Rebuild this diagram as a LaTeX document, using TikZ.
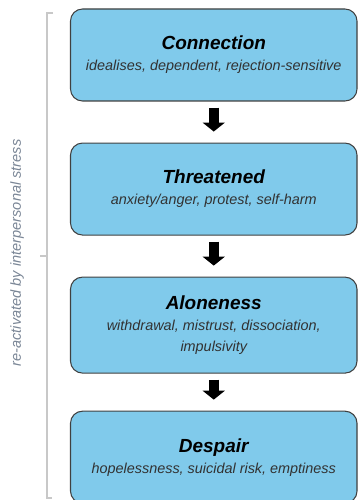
\documentclass[tikz,border=0pt]{standalone}
\usepackage{fontspec}
\setmainfont{Liberation Sans}
\usepackage{xcolor}
\usetikzlibrary{positioning,arrows.meta}

\definecolor{stagefill}{RGB}{128,202,235}
\definecolor{stageedge}{RGB}{64,64,64}
\definecolor{notetext}{RGB}{50,50,50}
\definecolor{sidegray}{RGB}{122,134,150}
\definecolor{bracketgray}{RGB}{200,200,200}

\newcommand{\stagetitle}[1]{{\fontsize{10.8}{12}\selectfont\bfseries\itshape #1}}
\newcommand{\stagenote}[1]{{\fontsize{8.2}{10}\selectfont\itshape\color{notetext}#1}}

\tikzset{
  stage/.style={draw=stageedge, fill=stagefill, rounded corners=0.24cm, line width=0.6pt,
    minimum width=5.73cm, minimum height=1.84cm, align=center, inner sep=2pt},
  flow/.style={-{Triangle[width=0.44cm,length=0.18cm]}, line width=0.21cm, black,
    shorten <=0.12cm, shorten >=0.22cm},
  bracket/.style={draw=bracketgray, line width=0.6pt},
}

\begin{document}
\begin{tikzpicture}
    \useasboundingbox (0,0) rectangle (7.16,-10);

    % Stages
    \node[stage] (connection) at (4.275,-1.10)
        {\stagetitle{Connection}\\ \stagenote{idealises, dependent, rejection-sensitive}};
    \node[stage, below=0.82cm of connection] (threatened)
        {\stagetitle{Threatened}\\ \stagenote{anxiety/anger, protest, self-harm}};
    \node[stage, minimum height=1.92cm, below=0.82cm of threatened] (aloneness)
        {\stagetitle{Aloneness}\\ \stagenote{withdrawal, mistrust, dissociation,}\\ \stagenote{impulsivity}};
    \node[stage, below=0.74cm of aloneness] (despair)
        {\stagetitle{Despair}\\ \stagenote{hopelessness, suicidal risk, emptiness}};

    % Arrows between stages
    \draw[flow] (connection) -- (threatened);
    \draw[flow] (threatened) -- (aloneness);
    \draw[flow] (aloneness) -- (despair);

    % Side bracket
    \coordinate (brtopend) at (1.06,-0.26);
    \coordinate (brtop) at (0.94,-0.26);
    \coordinate (brbot) at (0.94,-9.96);
    \coordinate (brbotend) at (1.04,-9.96);
    \coordinate (brmid) at (0.94,-5.12);
    \coordinate (brtick) at (0.80,-5.12);
    \draw[bracket] (brtopend) -- (brtop) -- (brbot) -- (brbotend);
    \draw[bracket] (brtick) -- (brmid);

    \node[rotate=90, text=sidegray, font=\fontsize{8.3}{10}\selectfont\itshape] (stress)
        at (0.34,-5.06) {re-activated by interpersonal stress};
\end{tikzpicture}
\end{document}
